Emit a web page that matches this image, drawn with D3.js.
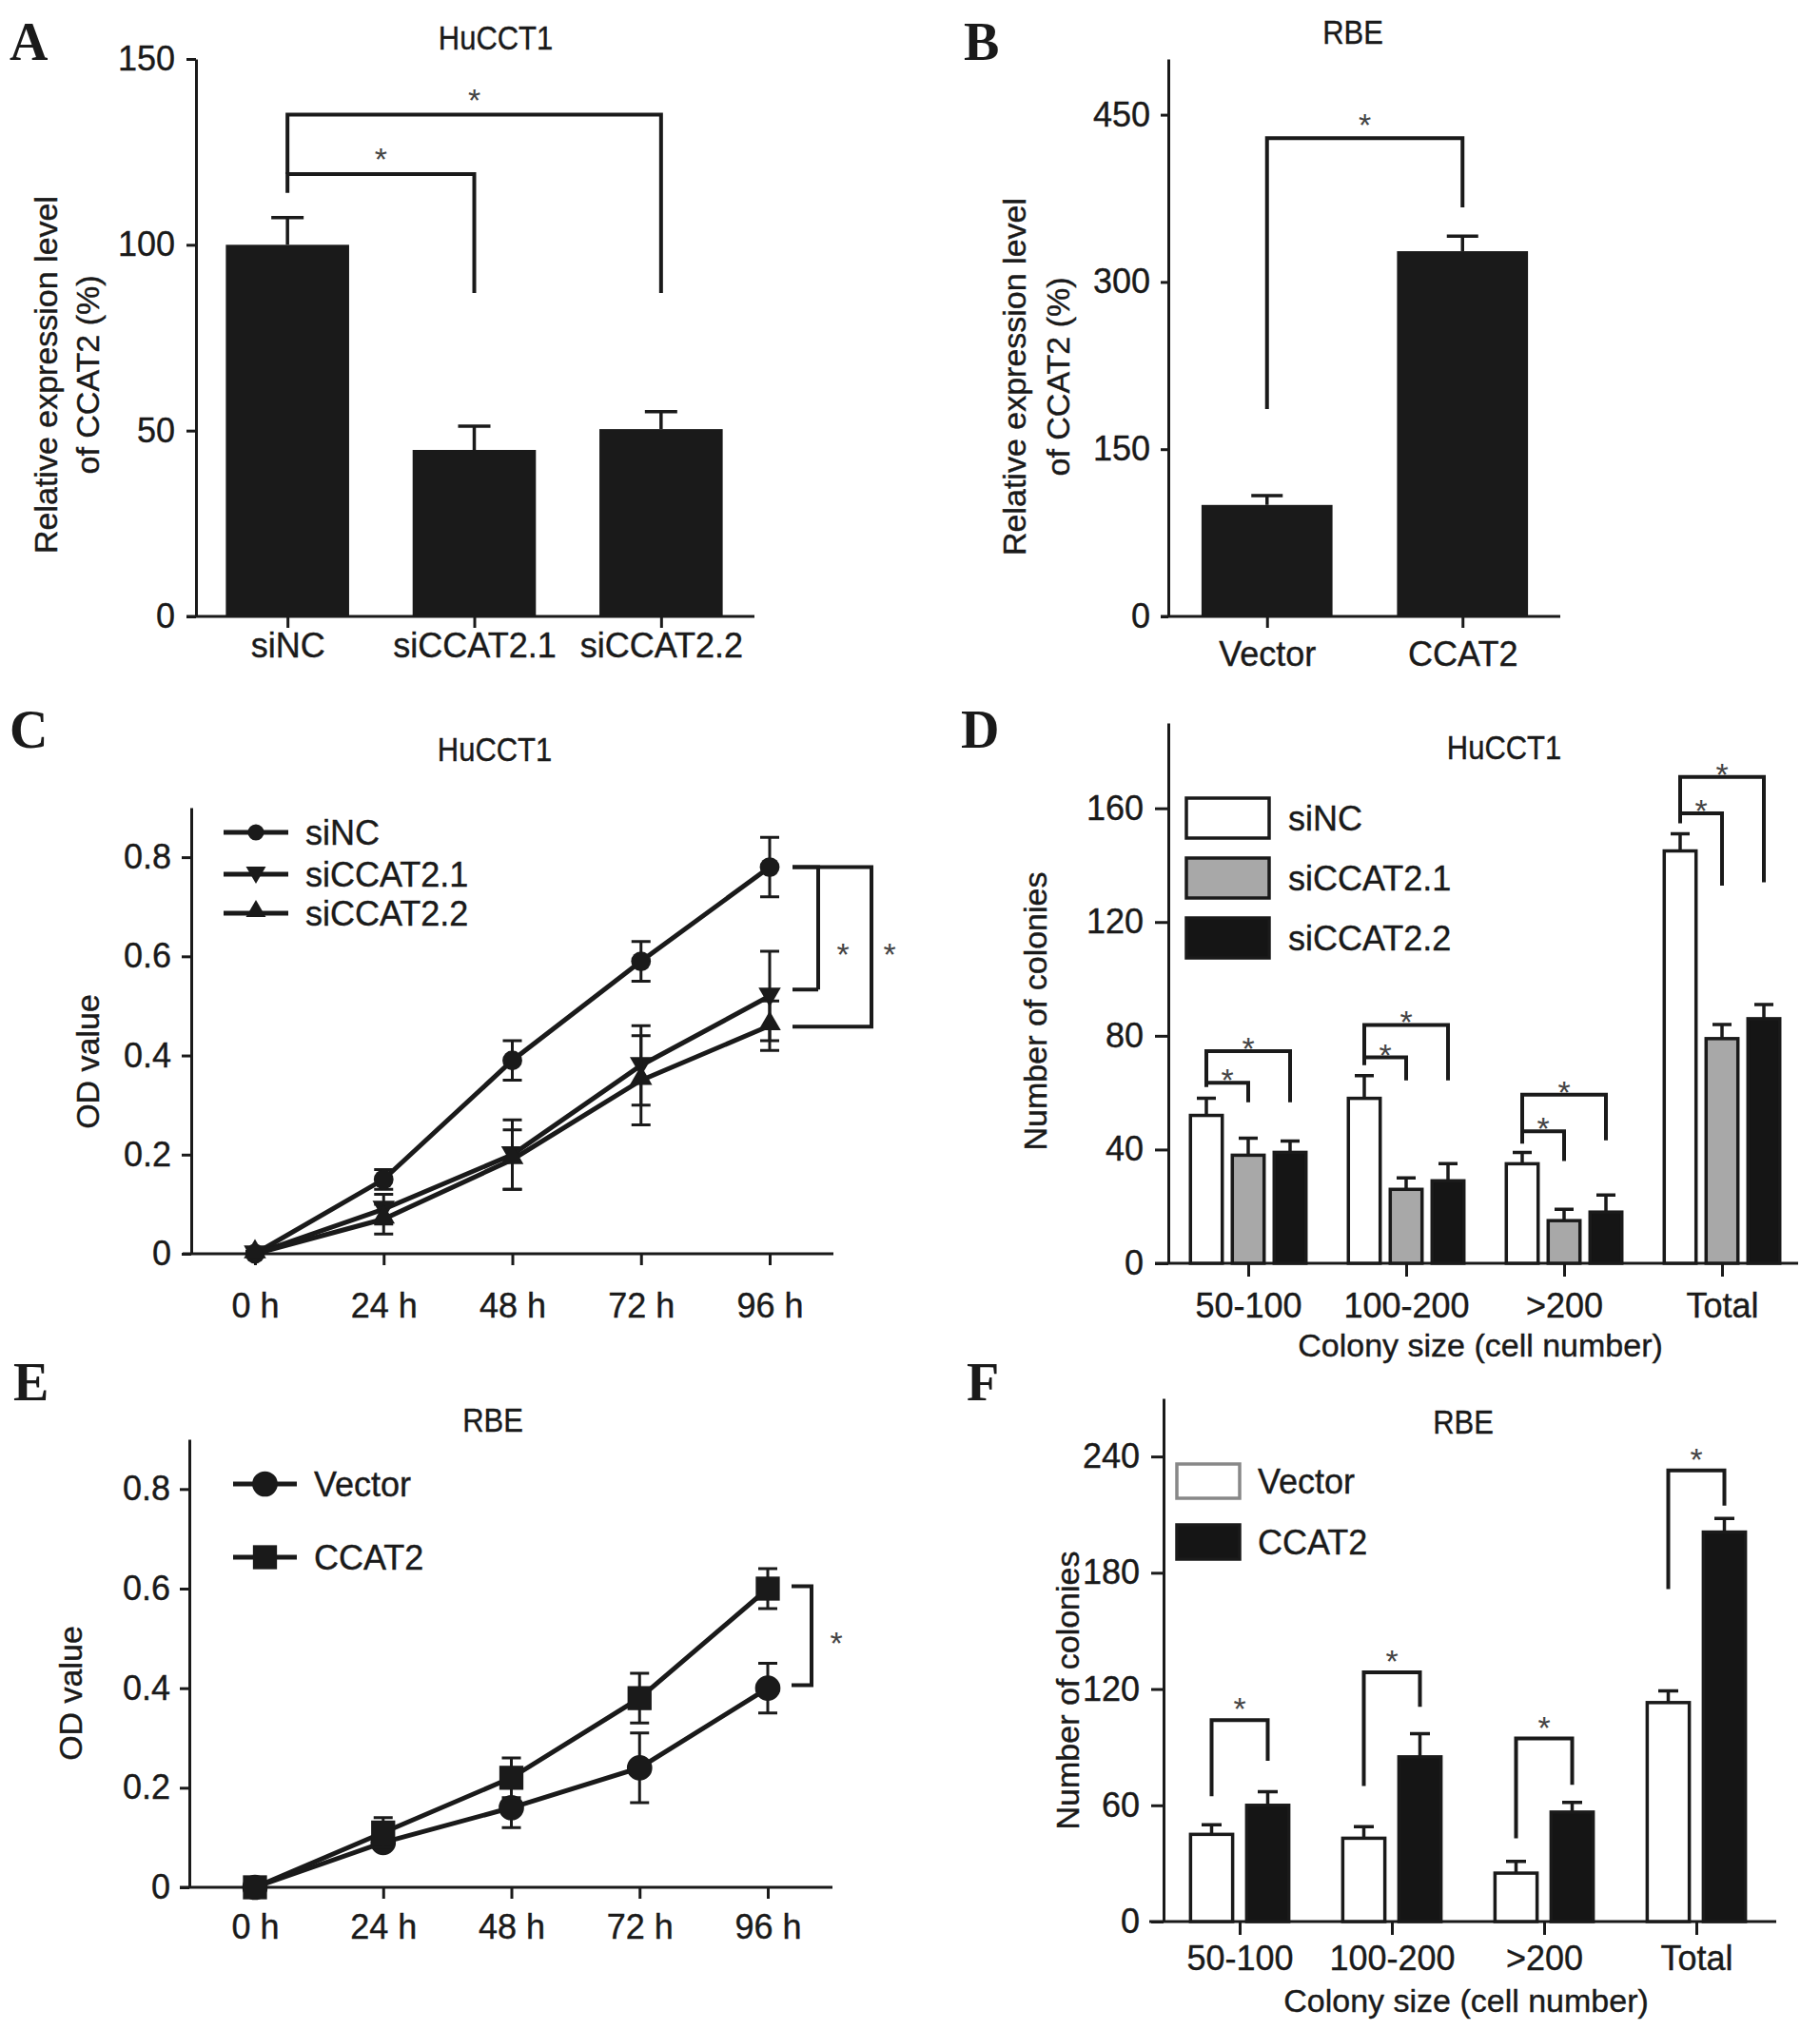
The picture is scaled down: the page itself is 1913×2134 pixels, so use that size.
<!DOCTYPE html>
<html>
<head>
<meta charset="utf-8">
<script src="https://cdn.jsdelivr.net/npm/d3@7"></script>
<style>
    body { margin: 0; background: #fff; }
    text { font-family: 'Liberation Sans', Arial, sans-serif; fill: #1a1a1a; stroke: #1a1a1a; stroke-width: 0.4px; }
    .axis path, .axis line { stroke: #1a1a1a; stroke-width: 3; }
    .axis text { font-size: 36px; fill: #1a1a1a; font-family: 'Liberation Sans', Arial, sans-serif; }
    .letter { font-family: 'Liberation Serif', 'Times New Roman', serif; font-weight: bold; font-size: 56px; stroke-width: 0; }
    .star { fill: #444; font-size: 34px; stroke-width: 0; }
</style>
</head>
<body>
<div id="chart"></div>
<script>
// ---- Panel A: HuCCT1 qPCR
const catsA = ['siNC', 'siCCAT2.1', 'siCCAT2.2'];
const valsA = [100, 44.8, 50.4];
const errA = [7.3, 6.4, 4.7];
const ticksA = [0, 50, 100, 150];
const sigA = [
    { from: 0, to: 1, y: 119, left: 114, right: 87 },
    { from: 0, to: 2, y: 135, left: 119, right: 87 },
];

// ---- Panel B: RBE qPCR
const catsB = ['Vector', 'CCAT2'];
const valsB = [100, 327.6];
const errB = [8.4, 13.4];
const ticksB = [0, 150, 300, 450];
const sigB = [{ from: 0, to: 1, y: 429, left: 186, right: 367 }];

// ---- Panels C / E: time points
const hours = ['0 h', '24 h', '48 h', '72 h', '96 h'];
const odTicks = [0, 0.2, 0.4, 0.6, 0.8];

// Panel C: HuCCT1 CCK-8
const namesC = ['siNC', 'siCCAT2.1', 'siCCAT2.2'];
const siNC_C = [0, 0.15, 0.39, 0.59, 0.78];
const siNC_Cerr = [0.005, 0.02, 0.04, 0.04, 0.06];
const si21_C = [0, 0.09, 0.20, 0.38, 0.52];
const si21_Cerr = [0.005, 0.03, 0.07, 0.08, 0.09];
const si22_C = [0, 0.07, 0.19, 0.35, 0.46];
const si22_Cerr = [0.005, 0.03, 0.06, 0.09, 0.05];
const sigC = [{ top: 0.78, bottom: 0.533 }, { top: 0.78, bottom: 0.458 }];

// Panel E: RBE CCK-8
const namesE = ['Vector', 'CCAT2'];
const vec_E = [0, 0.09, 0.16, 0.24, 0.40];
const vec_Eerr = [0.005, 0.01, 0.04, 0.07, 0.05];
const ccat_E = [0, 0.11, 0.22, 0.38, 0.60];
const ccat_Eerr = [0.005, 0.03, 0.04, 0.05, 0.04];
const sigE = [{ top: 0.605, bottom: 0.406 }];

// ---- Panels D / F: colony sizes
const sizes = ['50-100', '100-200', '>200', 'Total'];

// Panel D: HuCCT1 colonies
const seriesD = ['siNC', 'siCCAT2.1', 'siCCAT2.2'];
const siNC_D = [52, 58, 35, 145];
const siNC_Derr = [6, 8, 4, 6];
const si21_D = [38, 26, 15, 79];
const si21_Derr = [6, 4, 4, 5];
const si22_D = [39, 29, 18, 86];
const si22_Derr = [4, 6, 6, 5];
const ticksD = [0, 40, 80, 120, 160];
const sigD = [
    { group: 0, to: 1, y: 63.5, left: 62, right: 56.6 },
    { group: 0, to: 2, y: 74.6, left: 63.5, right: 56.6 },
    { group: 1, to: 1, y: 72.4, left: 69.7, right: 64.3 },
    { group: 1, to: 2, y: 83.8, left: 72.4, right: 64.3 },
    { group: 2, to: 1, y: 46.4, left: 42.1, right: 36 },
    { group: 2, to: 2, y: 59.3, left: 46.4, right: 43.2 },
    { group: 3, to: 1, y: 158.2, left: 154.7, right: 132.8 },
    { group: 3, to: 2, y: 171, left: 158.2, right: 134 },
];

// Panel F: RBE colonies
const seriesF = ['Vector', 'CCAT2'];
const vec_F = [45, 43, 25, 113];
const vec_Ferr = [5, 6, 6, 6];
const ccat_F = [60, 85, 56.5, 201];
const ccat_Ferr = [7, 12, 5, 7];
const ticksF = [0, 60, 120, 180, 240];
const sigF = [
    { group: 0, to: 1, y: 104, left: 64.7, right: 83 },
    { group: 1, to: 1, y: 128.6, left: 70, right: 110.8 },
    { group: 2, to: 1, y: 94.5, left: 43, right: 70.6 },
    { group: 3, to: 1, y: 232.8, left: 171.6, right: 214.6 },
];

const ink = '#1a1a1a';

// svg frame
const svg = d3
    .select('#chart')
    .append('svg')
    .attr('width', 1913)
    .attr('height', 2134);

// Draws both axes of one panel and returns its scales
function drawAxes(p) {
    const y = d3.scaleLinear().domain([0, p.max]).range([p.zeroY, p.topY]);
    const x = d3.scalePoint().domain(p.cats).range([p.x0, p.x1]).padding(p.pad);

    svg.append('g')
        .attr('class', 'axis')
        .attr('transform', `translate(${p.axisX}, 0)`)
        .call(
            d3.axisLeft(y)
                .tickValues(p.ticks)
                .tickSize(p.yTick[0])
                .tickPadding(p.yTick[1])
                .tickSizeOuter(0)
                .tickFormat(p.fmt || d3.format('d'))
        );

    const xAxisGroup = svg.append('g')
        .attr('class', 'axis')
        .attr('transform', `translate(0, ${p.zeroY})`)
        .call(
            d3.axisBottom(x)
                .tickSize(p.xTick[0])
                .tickPadding(p.xTick[1])
                .tickSizeOuter(0)
        );
    // x-axis line starts a little left of the y-axis
    xAxisGroup.select('.domain').attr('d', `M${p.lineX0},0H${p.lineX1}`);

    return { x, y };
}

// Panel letter and (slightly condensed) panel title
function panelText(label, lx, ly, title, tx, ty) {
    svg.append('text').attr('class', 'letter').attr('x', lx).attr('y', ly).text(label);
    svg.append('text')
        .attr('transform', `translate(${tx}, ${ty}) scale(0.86, 1)`)
        .attr('text-anchor', 'middle')
        .style('font-size', '36px')
        .text(title);
}

function yLabel(lines, xs, cy) {
    lines.forEach((line, i) => {
        svg.append('text')
            .attr('transform', `translate(${xs[i]}, ${cy}) rotate(-90)`)
            .attr('text-anchor', 'middle')
            .attr('dy', '0.35em')
            .style('font-size', '34px')
            .text(line);
    });
}

function bracket(x1, x2, yTop, yLeft, yRight) {
    svg.append('path')
        .attr('d', `M${x1},${yLeft}V${yTop}H${x2}V${yRight}`)
        .attr('fill', 'none')
        .attr('stroke', ink)
        .attr('stroke-width', 4);
}

function star(x, y) {
    svg.append('text')
        .attr('class', 'star')
        .attr('x', x)
        .attr('y', y)
        .attr('text-anchor', 'middle')
        .text('*');
}

// Upward error bars on top of bars
function barError(cx, yv, ye, cap) {
    svg.append('path')
        .attr('d', `M${cx},${yv}V${ye}M${cx - cap / 2},${ye}H${cx + cap / 2}`)
        .attr('stroke', ink)
        .attr('stroke-width', 3.5)
        .attr('fill', 'none');
}

// ================= Panel A =================
(function () {
    const { x, y } = drawAxes({
        max: 150, zeroY: 648, topY: 62, axisX: 206, ticks: ticksA,
        cats: catsA, x0: 204, x1: 793, pad: 0.5, lineX0: 196, lineX1: 793,
        yTick: [10, 12], xTick: [12, 5],
    });
    const bw = x.step() * 0.66;
    catsA.forEach((c, i) => barError(x(c), y(valsA[i]), y(valsA[i] + errA[i]), 34));
    svg.append('g')
        .selectAll('rect')
        .data(catsA)
        .enter()
        .append('rect')
        .attr('x', (d) => x(d) - bw / 2)
        .attr('width', bw)
        .attr('y', (d, i) => y(valsA[i]))
        .attr('height', (d, i) => y(0) - y(valsA[i]))
        .attr('fill', ink);
    sigA.forEach((s) => {
        bracket(x(catsA[s.from]), x(catsA[s.to]), y(s.y), y(s.left), y(s.right));
        star((x(catsA[s.from]) + x(catsA[s.to])) / 2, y(s.y) - 4);
    });
    panelText('A', 10, 63, 'HuCCT1', 521, 52);
    yLabel(['Relative expression level', 'of CCAT2 (%)'], [48, 92], 394);
})();

// ================= Panel B =================
(function () {
    const { x, y } = drawAxes({
        max: 500, zeroY: 648, topY: 62, axisX: 1228, ticks: ticksB,
        cats: catsB, x0: 1229, x1: 1640, pad: 0.5, lineX0: 1220, lineX1: 1640,
        yTick: [8, 11], xTick: [12, 14],
    });
    const bw = x.step() * 0.67;
    catsB.forEach((c, i) => barError(x(c), y(valsB[i]), y(valsB[i] + errB[i]), 33));
    svg.append('g')
        .selectAll('rect')
        .data(catsB)
        .enter()
        .append('rect')
        .attr('x', (d) => x(d) - bw / 2)
        .attr('width', bw)
        .attr('y', (d, i) => y(valsB[i]))
        .attr('height', (d, i) => y(0) - y(valsB[i]))
        .attr('fill', ink);
    sigB.forEach((s) => {
        bracket(x(catsB[s.from]), x(catsB[s.to]), y(s.y), y(s.left), y(s.right));
        star((x(catsB[s.from]) + x(catsB[s.to])) / 2, y(s.y) - 2);
    });
    panelText('B', 1013, 63, 'RBE', 1422, 46);
    yLabel(['Relative expression level', 'of CCAT2 (%)'], [1066, 1112], 396);
})();

// Line panel with symmetric error bars
function linePanel(p) {
    const { x, y } = drawAxes({
        max: 0.9, zeroY: p.zeroY, topY: p.topY, axisX: p.axisX, ticks: odTicks,
        cats: hours, x0: 268, x1: p.x96, pad: 0, lineX0: p.lineX0, lineX1: p.lineX1,
        yTick: p.yTick, xTick: p.xTick,
        fmt: (d) => (d === 0 ? '0' : d.toFixed(1)),
    });
    const line = d3.line().x((d, i) => x(hours[i])).y((d) => y(d));

    p.series.forEach((s) => {
        // error bars
        s.vals.forEach((v, i) => {
            const cx = x(hours[i]);
            svg.append('path')
                .attr('d', `M${cx},${y(v - s.err[i])}V${y(v + s.err[i])}` +
                    `M${cx - 10},${y(v - s.err[i])}H${cx + 10}` +
                    `M${cx - 10},${y(v + s.err[i])}H${cx + 10}`)
                .attr('stroke', ink)
                .attr('stroke-width', 3)
                .attr('fill', 'none');
        });
        svg.append('path')
            .datum(s.vals)
            .attr('d', line)
            .attr('fill', 'none')
            .attr('stroke', ink)
            .attr('stroke-width', 5);
        svg.append('g')
            .selectAll('path')
            .data(s.vals)
            .enter()
            .append('path')
            .attr('d', d3.symbol().type(s.symbol).size(s.size))
            .attr('transform', (d, i) => `translate(${x(hours[i])}, ${y(d) + (s.dy || 0)}) rotate(${s.rot || 0})`)
            .attr('fill', ink);
    });

    // legend
    p.series.forEach((s, i) => {
        const ly = p.legendY[i];
        svg.append('line')
            .attr('x1', p.legendX[0]).attr('x2', p.legendX[1])
            .attr('y1', ly).attr('y2', ly)
            .attr('stroke', ink).attr('stroke-width', 5);
        svg.append('path')
            .attr('d', d3.symbol().type(s.symbol).size(s.legendSize || s.size))
            .attr('transform', `translate(${(p.legendX[0] + p.legendX[1]) / 2}, ${ly + (s.dy || 0)}) rotate(${s.rot || 0})`)
            .attr('fill', ink);
        svg.append('text')
            .attr('x', p.legendX[1] + 18)
            .attr('y', ly)
            .attr('dy', '0.35em')
            .style('font-size', '36px')
            .text(s.name);
    });

    return { x, y };
}

// ================= Panel C =================
(function () {
    const { x, y } = linePanel({
        zeroY: 1318, topY: 849, axisX: 201, x96: 809, lineX0: 192, lineX1: 876,
        yTick: [10, 11], xTick: [12, 29],
        legendX: [235, 303], legendY: [875, 919, 960],
        series: [
            { name: namesC[0], vals: siNC_C, err: siNC_Cerr, symbol: d3.symbolCircle, size: 340, legendSize: 230 },
            { name: namesC[1], vals: si21_C, err: si21_Cerr, symbol: d3.symbolTriangle, size: 240, legendSize: 190, rot: 180, dy: -2 },
            { name: namesC[2], vals: si22_C, err: si22_Cerr, symbol: d3.symbolTriangle, size: 240, legendSize: 190, dy: -2 },
        ],
    });
    const xr = x('96 h');
    // inner bracket then outer bracket
    bracket(xr + 24, xr + 51, y(sigC[0].top), y(sigC[0].top), y(sigC[0].bottom));
    svg.append('path')
        .attr('d', `M${xr + 51},${y(sigC[0].bottom)}H${xr + 24}`)
        .attr('stroke', ink).attr('stroke-width', 4);
    svg.append('path')
        .attr('d', `M${xr + 24},${y(sigC[1].top)}H${xr + 107}V${y(sigC[1].bottom)}H${xr + 24}`)
        .attr('fill', 'none').attr('stroke', ink).attr('stroke-width', 4);
    star(xr + 77, y((sigC[0].top + sigC[1].bottom) / 2) + 20);
    star(xr + 126, y((sigC[0].top + sigC[1].bottom) / 2) + 20);
    panelText('C', 10, 786, 'HuCCT1', 520, 800);
    yLabel(['OD value'], [92], 1116);
})();

// ================= Panel E =================
(function () {
    const { x, y } = linePanel({
        zeroY: 1984, topY: 1513, axisX: 199, x96: 807, lineX0: 189, lineX1: 875,
        yTick: [10, 10], xTick: [12, 16],
        legendX: [245, 312], legendY: [1560, 1637],
        series: [
            { name: namesE[0], vals: vec_E, err: vec_Eerr, symbol: d3.symbolCircle, size: 560 },
            { name: namesE[1], vals: ccat_E, err: ccat_Eerr, symbol: d3.symbolSquare, size: 640 },
        ],
    });
    const xr = x('96 h');
    svg.append('path')
        .attr('d', `M${xr + 25},${y(sigE[0].top)}H${xr + 46}V${y(sigE[0].bottom)}H${xr + 25}`)
        .attr('fill', 'none').attr('stroke', ink).attr('stroke-width', 4);
    star(xr + 72, y((sigE[0].top + sigE[0].bottom) / 2) + 20);
    panelText('E', 14, 1472, 'RBE', 518, 1505);
    yLabel(['OD value'], [74], 1780);
})();

// Grouped bar panel
function groupPanel(p) {
    const { x, y } = drawAxes(p);
    const half = (p.series.length * p.sub) / 2;
    const xs = d3.scaleBand()
        .domain(p.series.map((s) => s.name))
        .range([-half, half])
        .paddingInner(p.subPad)
        .paddingOuter(p.subPad / 2);
    const bw = xs.bandwidth();
    const cx = (g, k) => x(sizes[g]) + xs(p.series[k].name) + bw / 2;

    p.series.forEach((s, k) => {
        s.vals.forEach((v, g) => barError(cx(g, k), y(v), y(v + s.err[g]), p.cap));
        svg.append('g')
            .selectAll('rect')
            .data(s.vals)
            .enter()
            .append('rect')
            .attr('x', (d, g) => cx(g, k) - bw / 2)
            .attr('width', bw)
            .attr('y', (d) => y(d))
            .attr('height', (d) => y(0) - y(d))
            .attr('fill', s.fill)
            .attr('stroke', ink)
            .attr('stroke-width', 3.5);
    });

    p.sig.forEach((b) => {
        bracket(cx(b.group, 0), cx(b.group, b.to), y(b.y), y(b.left), y(b.right));
        star((cx(b.group, 0) + cx(b.group, b.to)) / 2, y(b.y) + p.starDy);
    });

    // legend boxes
    p.series.forEach((s, k) => {
        const [bx, by, bW, bH] = p.legendBox(k);
        svg.append('rect')
            .attr('x', bx).attr('y', by)
            .attr('width', bW).attr('height', bH)
            .attr('fill', s.fill)
            .attr('stroke', s.legendStroke || ink)
            .attr('stroke-width', 3.5);
        svg.append('text')
            .attr('x', bx + bW + p.legendGap)
            .attr('y', by + bH / 2)
            .attr('dy', '0.35em')
            .style('font-size', '36px')
            .text(s.name);
    });

    svg.append('text')
        .attr('x', p.xLabel[0])
        .attr('y', p.xLabel[1])
        .attr('text-anchor', 'middle')
        .style('font-size', '34px')
        .text('Colony size (cell number)');
}

// ================= Panel D =================
groupPanel({
    max: 190, zeroY: 1328, topY: 760, axisX: 1228, ticks: ticksD,
    cats: sizes, x0: 1229, x1: 1893, pad: 0.5, lineX0: 1214, lineX1: 1890,
    yTick: [14, 12], xTick: [14, 17],
    sub: 44, subPad: 0.24, cap: 20, starDy: 9,
    series: [
        { name: seriesD[0], vals: siNC_D, err: siNC_Derr, fill: '#ffffff' },
        { name: seriesD[1], vals: si21_D, err: si21_Derr, fill: '#a8a8a8' },
        { name: seriesD[2], vals: si22_D, err: si22_Derr, fill: '#151515' },
    ],
    sig: sigD,
    legendBox: (k) => [1247, 839 + k * 63, 87, 42],
    legendGap: 20,
    xLabel: [1556, 1426],
});
panelText('D', 1010, 786, 'HuCCT1', 1581, 798);
yLabel(['Number of colonies'], [1088], 1063);

// ================= Panel F =================
groupPanel({
    max: 270, zeroY: 2020, topY: 1470, axisX: 1223, ticks: ticksF,
    cats: sizes, x0: 1223, x1: 1863, pad: 0.5, lineX0: 1208, lineX1: 1867,
    yTick: [13, 12], xTick: [14, 11],
    sub: 59, subPad: 0.25, cap: 21, starDy: 0,
    series: [
        { name: seriesF[0], vals: vec_F, err: vec_Ferr, fill: '#ffffff', legendStroke: '#888' },
        { name: seriesF[1], vals: ccat_F, err: ccat_Ferr, fill: '#151515' },
    ],
    sig: sigF,
    legendBox: (k) => [1237, 1539 + k * 64, 66, 36],
    legendGap: 19,
    xLabel: [1541, 2115],
});
panelText('F', 1016, 1472, 'RBE', 1538, 1507);
yLabel(['Number of colonies'], [1122], 1777);
</script>
</body>
</html>
